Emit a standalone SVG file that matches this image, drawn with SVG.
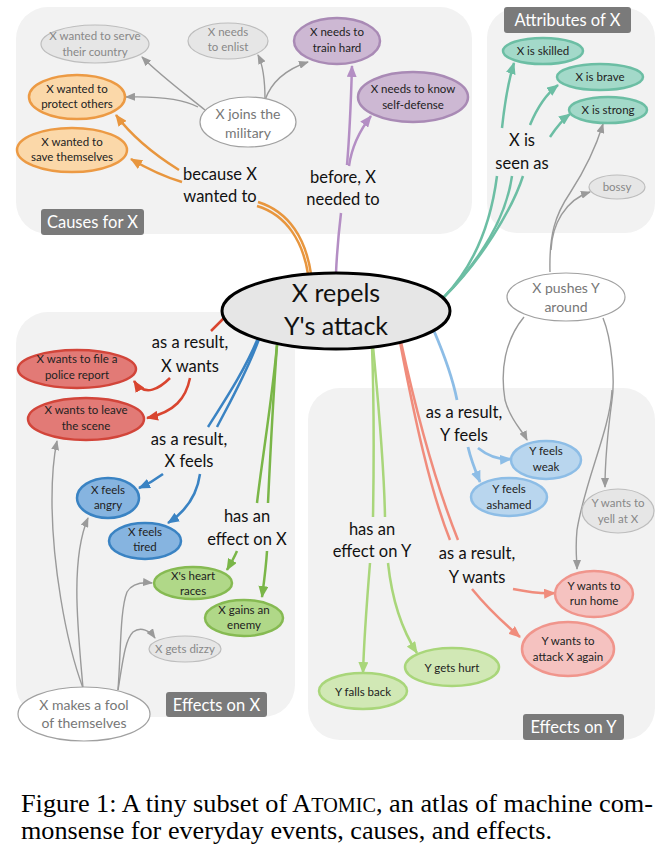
<svg xmlns="http://www.w3.org/2000/svg" width="669" height="847" viewBox="0 0 669 847">
<style>
.panel{fill:#f2f2f2}
.tag rect{fill:#7a7a7a}
.tag text{fill:#fff;font-size:16.5px}
text{font-family:Lato,"Open Sans","DejaVu Sans",sans-serif;text-anchor:middle}
.nt{font-size:11.5px;fill:#222}
.gt{font-size:11.5px;fill:#888}
.wt{font-size:14px;fill:#777}
.el{font-size:16.5px;fill:#111}
.gray ellipse{fill:#e6e6e6;stroke:#bdbdbd;stroke-width:1.2}
.white ellipse{fill:#fff;stroke:#a0a0a0;stroke-width:1.2}
.or ellipse{fill:#fbd8a9;stroke:#ec9a44;stroke-width:2.5}
.pu ellipse{fill:#cdb8d3;stroke:#a98ab5;stroke-width:2.5}
.te ellipse{fill:#a3d9c9;stroke:#6cbea4;stroke-width:2.5}
.re ellipse{fill:#e27a76;stroke:#d2453a;stroke-width:2.5}
.bl ellipse{fill:#86b4e0;stroke:#3a83c3;stroke-width:2.5}
.gr ellipse{fill:#b0d888;stroke:#86ba52;stroke-width:2.5}
.lb ellipse{fill:#b9d6ee;stroke:#8dbde6;stroke-width:2.5}
.lg ellipse{fill:#d1e8b5;stroke:#a9d67a;stroke-width:2.5}
.sa ellipse{fill:#f5c2c0;stroke:#f0958c;stroke-width:2.5}
#edges path{fill:none}
.e-or{stroke:#e8963e;stroke-width:2.5}
.e-pu{stroke:#b48ec4;stroke-width:2.5}
.e-te{stroke:#6cbea4;stroke-width:2.5}
.e-re{stroke:#d9452f;stroke-width:2.5}
.e-bl{stroke:#3a83c3;stroke-width:2.5}
.e-gr{stroke:#7ab648;stroke-width:2.5}
.e-lb{stroke:#8dbde6;stroke-width:2.8}
.e-lg{stroke:#a9d67a;stroke-width:2.5}
.e-sa{stroke:#f08c7c;stroke-width:2.5}
.e-g{stroke:#9a9a9a;stroke-width:1.4}
#caption text{font-family:"Liberation Serif","Times New Roman",serif;text-anchor:start;font-size:26px;fill:#000}
</style>
<defs>
<marker id="m-or" markerUnits="userSpaceOnUse" markerWidth="12" markerHeight="10" refX="11" refY="5" orient="auto"><path d="M0,0 L12,5 L0,10 z" fill="#e8963e"/></marker>
<marker id="m-pu" markerUnits="userSpaceOnUse" markerWidth="12" markerHeight="10" refX="11" refY="5" orient="auto"><path d="M0,0 L12,5 L0,10 z" fill="#b48ec4"/></marker>
<marker id="m-te" markerUnits="userSpaceOnUse" markerWidth="12" markerHeight="10" refX="11" refY="5" orient="auto"><path d="M0,0 L12,5 L0,10 z" fill="#6cbea4"/></marker>
<marker id="m-re" markerUnits="userSpaceOnUse" markerWidth="12" markerHeight="10" refX="11" refY="5" orient="auto"><path d="M0,0 L12,5 L0,10 z" fill="#d9452f"/></marker>
<marker id="m-bl" markerUnits="userSpaceOnUse" markerWidth="12" markerHeight="10" refX="11" refY="5" orient="auto"><path d="M0,0 L12,5 L0,10 z" fill="#3a83c3"/></marker>
<marker id="m-gr" markerUnits="userSpaceOnUse" markerWidth="12" markerHeight="10" refX="11" refY="5" orient="auto"><path d="M0,0 L12,5 L0,10 z" fill="#7ab648"/></marker>
<marker id="m-lb" markerUnits="userSpaceOnUse" markerWidth="12" markerHeight="10" refX="11" refY="5" orient="auto"><path d="M0,0 L12,5 L0,10 z" fill="#8dbde6"/></marker>
<marker id="m-lg" markerUnits="userSpaceOnUse" markerWidth="12" markerHeight="10" refX="11" refY="5" orient="auto"><path d="M0,0 L12,5 L0,10 z" fill="#a9d67a"/></marker>
<marker id="m-sa" markerUnits="userSpaceOnUse" markerWidth="12" markerHeight="10" refX="11" refY="5" orient="auto"><path d="M0,0 L12,5 L0,10 z" fill="#f08c7c"/></marker>
<marker id="m-g" markerUnits="userSpaceOnUse" markerWidth="10" markerHeight="8" refX="9" refY="4" orient="auto"><path d="M0,0 L10,4 L0,8 z" fill="#9a9a9a"/></marker>
</defs>

<g id="panels">
<rect class="panel" x="16" y="7" width="456" height="227" rx="32"/>
<rect class="panel" x="487" y="8" width="168" height="225" rx="30"/>
<rect class="panel" x="16" y="312" width="279" height="405" rx="32"/>
<rect class="panel" x="308" y="388" width="347" height="352" rx="32"/>
<g class="tag"><rect x="41" y="209" width="103" height="26" rx="3"/><text x="92.5" y="228">Causes for X</text></g>
<g class="tag"><rect x="504" y="7" width="127" height="26" rx="3"/><text x="567.5" y="26">Attributes of X</text></g>
<g class="tag"><rect x="166" y="692" width="101" height="25" rx="3"/><text x="216.5" y="711">Effects on X</text></g>
<g class="tag"><rect x="523" y="714" width="101" height="26" rx="3"/><text x="573.5" y="733">Effects on Y</text></g>
</g>

<g id="edges">
<path class="e-or" d="M311 274 C306 240 290 212 258 202"/>
<path class="e-or" d="M308 274 C303 242 287 215 257 206"/>
<path class="e-or" d="M179 170 C155 155 133 138 116 115" marker-end="url(#m-or)"/>
<path class="e-or" d="M182 182 C162 176 146 168 131 159" marker-end="url(#m-or)"/>
<path class="e-pu" d="M336 273 C337 250 339 230 341 213"/>
<path class="e-pu" d="M347 165 C350 130 351 100 352 66" marker-end="url(#m-pu)"/>
<path class="e-pu" d="M349 166 C352 145 360 130 371 116" marker-end="url(#m-pu)"/>
<path class="e-te" d="M444 297 C470 270 490 230 497 176"/>
<path class="e-te" d="M444 297 C475 265 505 225 512 176"/>
<path class="e-te" d="M444 297 C480 262 512 210 523 176"/>
<path class="e-te" d="M502 128 C505 100 508 82 514 63" marker-end="url(#m-te)"/>
<path class="e-te" d="M530 125 C537 108 545 95 558 85" marker-end="url(#m-te)"/>
<path class="e-te" d="M550 137 C556 128 562 120 570 114" marker-end="url(#m-te)"/>
<path class="e-re" d="M224 318 L211 331"/>
<path class="e-re" d="M170 378 C160 388 145 398 134 381" marker-end="url(#m-re)"/>
<path class="e-re" d="M190 378 C186 398 175 412 147 418" marker-end="url(#m-re)"/>
<path class="e-bl" d="M258 338 C245 370 225 400 208 427"/>
<path class="e-bl" d="M259 339 C247 372 230 402 217 427"/>
<path class="e-bl" d="M163 474 C155 480 148 484 139 488" marker-end="url(#m-bl)"/>
<path class="e-bl" d="M200 474 C197 495 185 512 168 523" marker-end="url(#m-bl)"/>
<path class="e-gr" d="M277 345 C272 400 262 460 257 503"/>
<path class="e-gr" d="M277 345 C273 400 270 460 268 503"/>
<path class="e-gr" d="M237 551 C234 558 231 563 227 570" marker-end="url(#m-gr)"/>
<path class="e-gr" d="M267 551 C266 568 264 582 262 597" marker-end="url(#m-gr)"/>
<path class="e-lb" d="M434 331 C443 352 452 375 457 400"/>
<path class="e-lb" d="M468 447 C471 460 475 470 480 482" marker-end="url(#m-lb)"/>
<path class="e-lb" d="M478 448 C488 456 498 460 511 459" marker-end="url(#m-lb)"/>
<path class="e-lg" d="M372 346 C374 400 374 460 373 517"/>
<path class="e-lg" d="M373 346 C378 400 384 460 385 517"/>
<path class="e-lg" d="M370 563 C367 600 364 640 363 673" marker-end="url(#m-lg)"/>
<path class="e-lg" d="M388 563 C392 600 402 630 417 653" marker-end="url(#m-lg)"/>
<path class="e-sa" d="M400 342 C415 420 430 490 450 540"/>
<path class="e-sa" d="M401 342 C418 420 438 490 458 540"/>
<path class="e-sa" d="M513 589 C528 592 540 594 555 593" marker-end="url(#m-sa)"/>
<path class="e-sa" d="M472 589 C485 605 500 620 520 637" marker-end="url(#m-sa)"/>
<path class="e-g" d="M205 110 C180 90 160 75 142 57" marker-end="url(#m-g)"/>
<path class="e-g" d="M198 107 C185 100 160 96 126 97" marker-end="url(#m-g)"/>
<path class="e-g" d="M265 100 C265 80 263 65 258 55" marker-end="url(#m-g)"/>
<path class="e-g" d="M265 100 C272 80 290 68 308 62" marker-end="url(#m-g)"/>
<path class="e-g" d="M550 272 C549 235 555 215 570 193 C585 170 595 150 603 124" marker-end="url(#m-g)"/>
<path class="e-g" d="M551 250 C552 225 565 200 590 192" marker-end="url(#m-g)"/>
<path class="e-g" d="M524 317 C505 340 500 370 505 400 C510 420 522 430 527 440" marker-end="url(#m-g)"/>
<path class="e-g" d="M603 318 C612 340 615 380 612 400 C608 430 605 460 605 487" marker-end="url(#m-g)"/>
<path class="e-g" d="M612 390 C610 430 585 480 577 530 C575 550 577 560 577 569" marker-end="url(#m-g)"/>
<path class="e-g" d="M83 688 C65 640 52 560 52 500 C52 470 54 455 57 441" marker-end="url(#m-g)"/>
<path class="e-g" d="M83 688 C78 630 70 560 88 518" marker-end="url(#m-g)"/>
<path class="e-g" d="M118 690 C121 650 120 610 127 592 C132 583 142 582 152 583" marker-end="url(#m-g)"/>
<path class="e-g" d="M118 690 C123 660 125 640 133 632 C141 626 150 631 155 638" marker-end="url(#m-g)"/>
</g>

<g id="edge-labels">
<text class="el" x="220" y="180">because X</text><text class="el" x="220" y="202">wanted to</text>
<text class="el" x="343" y="183">before, X</text><text class="el" x="343" y="205">needed to</text>
<text class="el" x="522" y="146">X is</text><text class="el" x="522" y="169">seen as</text>
<text class="el" x="190" y="348">as a result,</text><text class="el" x="190" y="372">X wants</text>
<text class="el" x="189" y="445">as a result,</text><text class="el" x="189" y="467">X feels</text>
<text class="el" x="247" y="522">has an</text><text class="el" x="247" y="545">effect on X</text>
<text class="el" x="464" y="418">as a result,</text><text class="el" x="464" y="441">Y feels</text>
<text class="el" x="372" y="535">has an</text><text class="el" x="372" y="557">effect on Y</text>
<text class="el" x="477" y="559">as a result,</text><text class="el" x="477" y="583">Y wants</text>
</g>

<g id="n-center"><ellipse cx="336" cy="311" rx="114" ry="38" fill="#e6e6e6" stroke="#000" stroke-width="3"/>
<text x="336" y="302" font-size="25" fill="#111">X repels</text><text x="336" y="335" font-size="25" fill="#111">Y's attack</text></g>

<g id="n-serve" class="gray"><ellipse cx="95" cy="44" rx="54" ry="19"/><text class="gt" x="95" y="40">X wanted to serve</text><text class="gt" x="95" y="56">their country</text></g>
<g id="n-enlist" class="gray"><ellipse cx="228" cy="41" rx="40" ry="18"/><text class="gt" x="228" y="36">X needs</text><text class="gt" x="228" y="51">to enlist</text></g>
<g id="n-train" class="pu"><ellipse cx="337" cy="41" rx="43" ry="23"/><text class="nt" x="337" y="36">X needs to</text><text class="nt" x="337" y="52">train hard</text></g>
<g id="n-selfdef" class="pu"><ellipse cx="413" cy="97" rx="55" ry="25"/><text class="nt" x="413" y="93">X needs to know</text><text class="nt" x="413" y="109">self-defense</text></g>
<g id="n-protect" class="or"><ellipse cx="77" cy="97" rx="48" ry="22"/><text class="nt" x="77" y="93">X wanted to</text><text class="nt" x="77" y="108">protect others</text></g>
<g id="n-save" class="or"><ellipse cx="72" cy="150" rx="55" ry="22"/><text class="nt" x="72" y="146">X wanted to</text><text class="nt" x="72" y="161">save themselves</text></g>
<g id="n-military" class="white"><ellipse cx="248" cy="122" rx="48" ry="25"/><text class="wt" x="248" y="119">X joins the</text><text class="wt" x="248" y="138">military</text></g>

<g id="n-skilled" class="te"><ellipse cx="543" cy="51" rx="40" ry="13"/><text class="nt" x="543" y="55">X is skilled</text></g>
<g id="n-brave" class="te"><ellipse cx="600" cy="77" rx="43" ry="13"/><text class="nt" x="600" y="81">X is brave</text></g>
<g id="n-strong" class="te"><ellipse cx="608" cy="110" rx="39" ry="13"/><text class="nt" x="608" y="114">X is strong</text></g>
<g id="n-bossy" class="gray"><ellipse cx="617" cy="187" rx="28" ry="12"/><text class="gt" x="617" y="191">bossy</text></g>
<g id="n-pushes" class="white"><ellipse cx="566" cy="297" rx="59" ry="24"/><text class="wt" x="566" y="293">X pushes Y</text><text class="wt" x="566" y="312">around</text></g>

<g id="n-police" class="re"><ellipse cx="77" cy="369" rx="59" ry="19"/><text class="nt" x="77" y="363">X wants to file a</text><text class="nt" x="77" y="379">police report</text></g>
<g id="n-leave" class="re"><ellipse cx="86" cy="419" rx="58" ry="21"/><text class="nt" x="86" y="414">X wants to leave</text><text class="nt" x="86" y="430">the scene</text></g>
<g id="n-angry" class="bl"><ellipse cx="108" cy="498" rx="31" ry="20"/><text class="nt" x="108" y="494">X feels</text><text class="nt" x="108" y="509">angry</text></g>
<g id="n-tired" class="bl"><ellipse cx="145" cy="541" rx="36" ry="18"/><text class="nt" x="145" y="536">X feels</text><text class="nt" x="145" y="551">tired</text></g>
<g id="n-heart" class="gr"><ellipse cx="193" cy="583" rx="39" ry="16"/><text class="nt" x="193" y="580">X's heart</text><text class="nt" x="193" y="595">races</text></g>
<g id="n-enemy" class="gr"><ellipse cx="244" cy="618" rx="39" ry="18"/><text class="nt" x="244" y="614">X gains an</text><text class="nt" x="244" y="629">enemy</text></g>
<g id="n-dizzy" class="gray"><ellipse cx="185" cy="649" rx="36" ry="13"/><text class="gt" x="185" y="653">X gets dizzy</text></g>
<g id="n-fool" class="white"><ellipse cx="84" cy="714" rx="66" ry="27"/><text class="wt" x="84" y="710">X makes a fool</text><text class="wt" x="84" y="728">of themselves</text></g>

<g id="n-weak" class="lb"><ellipse cx="546" cy="460" rx="35" ry="19"/><text class="nt" x="546" y="455">Y feels</text><text class="nt" x="546" y="471">weak</text></g>
<g id="n-ashamed" class="lb"><ellipse cx="509" cy="497" rx="38" ry="19"/><text class="nt" x="509" y="493">Y feels</text><text class="nt" x="509" y="509">ashamed</text></g>
<g id="n-yell" class="gray"><ellipse cx="618" cy="511" rx="36" ry="22"/><text class="gt" x="618" y="507">Y wants to</text><text class="gt" x="618" y="523">yell at X</text></g>
<g id="n-runhome" class="sa"><ellipse cx="594" cy="594" rx="39" ry="23"/><text class="nt" x="594" y="590">Y wants to</text><text class="nt" x="594" y="605">run home</text></g>
<g id="n-attack" class="sa"><ellipse cx="568" cy="649" rx="46" ry="27"/><text class="nt" x="568" y="645">Y wants to</text><text class="nt" x="568" y="661">attack X again</text></g>
<g id="n-hurt" class="lg"><ellipse cx="452" cy="667" rx="47" ry="19"/><text class="nt" x="452" y="672">Y gets hurt</text></g>
<g id="n-fallsback" class="lg"><ellipse cx="363" cy="691" rx="44" ry="18"/><text class="nt" x="363" y="696">Y falls back</text></g>

<g id="caption">
<text x="21" y="812" textLength="632" lengthAdjust="spacingAndGlyphs">Figure 1: A tiny subset of A<tspan font-size="20">TOMIC</tspan>, an atlas of machine com-</text>
<text x="21" y="839" textLength="531" lengthAdjust="spacingAndGlyphs">monsense for everyday events, causes, and effects.</text>
</g>
</svg>
